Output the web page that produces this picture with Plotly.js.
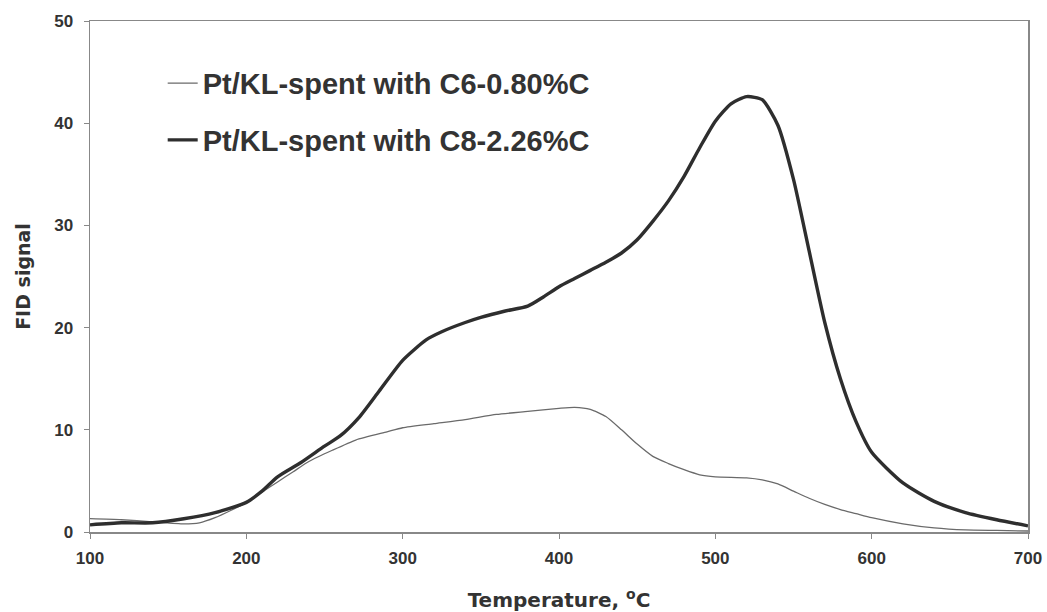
<!DOCTYPE html>
<html>
<head>
<meta charset="utf-8">
<script src="https://cdn.plot.ly/plotly-3.0.1.min.js"></script>
<style>html,body{margin:0;padding:0;background:#fff;}#chart{width:1047px;height:612px;}</style>
</head>
<body>
<div id="chart"></div>
<script>
// Temperature (°C)
const tempC6 = [100,120,140,160,170,180,190,200,210,220,230,240,255,270,290,300,320,340,360,380,400,410,420,430,440,450,460,470,480,490,500,520,530,540,550,560,570,580,590,600,620,640,660,680,700];
const fidC6  = [1.3,1.2,1.0,0.8,0.9,1.4,2.1,2.9,3.9,4.9,5.9,6.9,8.0,9.0,9.8,10.2,10.6,11.0,11.5,11.8,12.1,12.2,12.0,11.3,10.0,8.6,7.4,6.7,6.1,5.6,5.4,5.3,5.1,4.7,4.0,3.3,2.7,2.2,1.8,1.4,0.8,0.4,0.2,0.15,0.1];

const tempC8 = [100,120,140,160,180,200,210,220,235,250,260,272,285,300,315,325,340,350,365,380,390,400,410,420,430,440,450,460,470,480,490,500,510,520,530,540,550,560,570,580,590,600,620,640,660,680,700];
const fidC8  = [0.7,0.9,0.9,1.3,1.9,2.9,4.0,5.4,6.8,8.4,9.4,11.2,13.8,16.8,18.8,19.6,20.5,21.0,21.6,22.1,23.0,24.0,24.8,25.6,26.4,27.3,28.6,30.4,32.4,34.8,37.6,40.2,41.9,42.6,42.3,39.8,34.5,27.5,20.5,15.0,10.8,7.8,4.8,3.0,1.9,1.2,0.6];

const nameC6 = "Pt/KL-spent with C6-0.80%C";
const nameC8 = "Pt/KL-spent with C8-2.26%C";
const xTicks = [100,200,300,400,500,600,700];
const yTicks = [0,10,20,30,40,50];

const traces = [
  {x: tempC6, y: fidC6, name: nameC6, mode: 'lines', legendgroup: 'a',
   line: {color: '#6a6a6a', width: 1.3, shape: 'spline', smoothing: 0.6}},
  {x: tempC8, y: fidC8, name: nameC8, mode: 'lines', legendgroup: 'b',
   line: {color: '#2e2e2e', width: 3.4, shape: 'spline', smoothing: 0.6}}
];

const fam = 'Liberation Sans, Arial, sans-serif';
const tickFont = {family: fam, size: 17, color: '#333', weight: 'bold'};
const titleFont = {family: 'DejaVu Sans, sans-serif', size: 19, color: '#333', weight: 'bold'};
const layout = {
  width: 1047, height: 612,
  margin: {l: 90, r: 19, t: 21, b: 80},
  paper_bgcolor: '#fff', plot_bgcolor: '#fff',
  showlegend: true,
  legend: {x: 0.0775, y: 0.928, xanchor: 'left', yanchor: 'top',
    font: {family: fam, size: 29, color: '#333', weight: 'bold'},
    bgcolor: 'rgba(0,0,0,0)', traceorder: 'grouped', tracegroupgap: 16, itemwidth: 30},
  xaxis: {range: [100, 700], tickvals: xTicks, ticktext: xTicks.map(String),
    showgrid: false, zeroline: false, showline: true, linecolor: '#888', linewidth: 1.5,
    mirror: true, ticks: 'outside', ticklen: 5, tickcolor: '#888', ticklabelstandoff: 5,
    tickfont: tickFont,
    title: {text: 'Temperature, <sup>o</sup>C', standoff: 26, font: Object.assign({}, titleFont, {size: 20})}},
  yaxis: {range: [0, 50], tickvals: yTicks, ticktext: yTicks.map(String),
    showgrid: false, zeroline: false, showline: true, linecolor: '#888', linewidth: 1.5,
    mirror: true, ticks: 'outside', ticklen: 5, tickcolor: '#888', ticklabelstandoff: 7,
    tickfont: tickFont,
    title: {text: 'FID signal', standoff: 18, font: titleFont}}
};

Plotly.newPlot('chart', traces, layout, {displayModeBar: false, staticPlot: true});
</script>
</body>
</html>
